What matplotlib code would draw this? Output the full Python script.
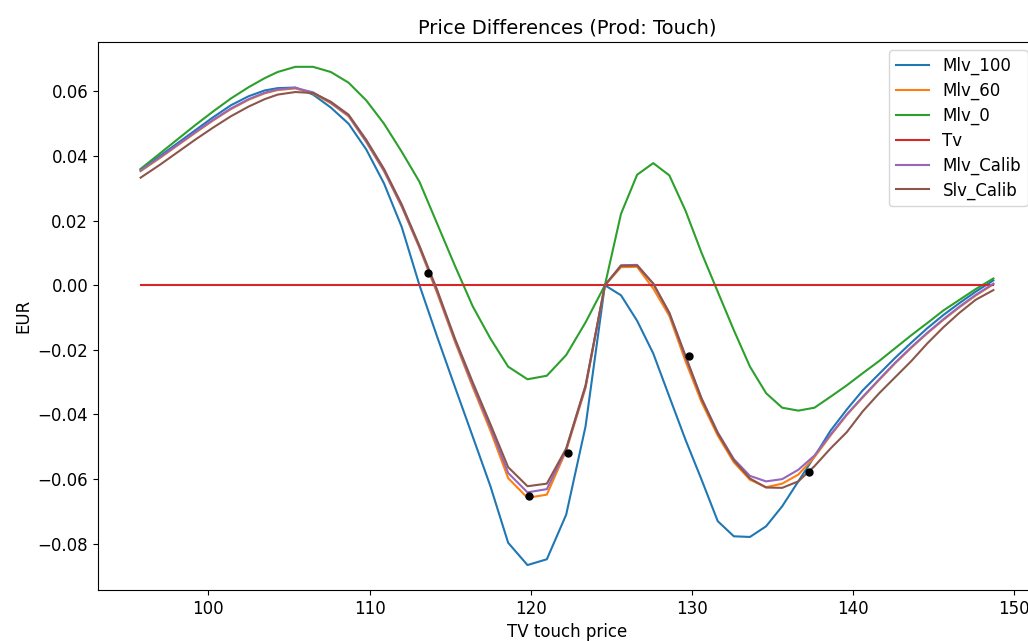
import matplotlib
matplotlib.use("Agg")
import matplotlib.pyplot as plt

# TV touch prices (x grid)
tv_price = [95.8, 97.0, 98.1, 99.2, 100.3, 101.4, 102.5, 103.5, 104.3, 105.4,
            106.5, 107.6, 108.7, 109.8, 110.9, 112.0, 113.1, 114.2, 115.3, 116.4,
            117.5, 118.6, 119.8, 121.0, 122.2, 123.4, 124.6, 125.6, 126.6, 127.6,
            128.6, 129.6, 130.6, 131.6, 132.6, 133.6, 134.6, 135.6, 136.6, 137.6,
            138.6, 139.6, 140.6, 141.6, 142.6, 143.6, 144.6, 145.6, 146.6, 147.6,
            148.7]

mlv_100 = [0.0358, 0.0400, 0.0440, 0.0480, 0.0520, 0.0557, 0.0585, 0.0603, 0.0610, 0.0612,
           0.0590, 0.0550, 0.0500, 0.0420, 0.0315, 0.0180, 0.0000, -0.0160, -0.0315, -0.0468,
           -0.0622, -0.0797, -0.0866, -0.0848, -0.0710, -0.0437, 0.0000, -0.0031, -0.0110, -0.0211,
           -0.0345, -0.0478, -0.0602, -0.0730, -0.0777, -0.0779, -0.0746, -0.0684, -0.0607, -0.0530,
           -0.0450, -0.0385, -0.0325, -0.0275, -0.0225, -0.0178, -0.0133, -0.0092, -0.0055, -0.0020,
           0.0015]

mlv_60 = [0.0353, 0.0394, 0.0433, 0.0472, 0.0510, 0.0545, 0.0574, 0.0594, 0.0604, 0.0609,
          0.0594, 0.0563, 0.0523, 0.0443, 0.0353, 0.0243, 0.0115, -0.0025, -0.0175, -0.0315,
          -0.0450, -0.0597, -0.0658, -0.0648, -0.0512, -0.0318, 0.0000, 0.0056, 0.0057, -0.0010,
          -0.0095, -0.0235, -0.0362, -0.0465, -0.0548, -0.0602, -0.0625, -0.0614, -0.0586, -0.0532,
          -0.0465, -0.0402, -0.0347, -0.0294, -0.0242, -0.0194, -0.0149, -0.0107, -0.0068, -0.0032,
          0.0003]

mlv_0 = [0.0360, 0.0408, 0.0452, 0.0496, 0.0538, 0.0578, 0.0613, 0.0641, 0.0660, 0.0676,
         0.0676, 0.0660, 0.0627, 0.0572, 0.0500, 0.0413, 0.0320, 0.0190, 0.0060, -0.0065,
         -0.0165, -0.0252, -0.0291, -0.0280, -0.0216, -0.0115, 0.0000, 0.0221, 0.0342, 0.0378,
         0.0340, 0.0231, 0.0100, -0.0020, -0.0139, -0.0252, -0.0334, -0.0379, -0.0388, -0.0379,
         -0.0345, -0.0310, -0.0272, -0.0235, -0.0195, -0.0155, -0.0117, -0.0078, -0.0045, -0.0012,
         0.0021]

tv = [0.0] * len(tv_price)

mlv_calib = [0.0355, 0.0396, 0.0435, 0.0474, 0.0512, 0.0547, 0.0576, 0.0596, 0.0606, 0.0611,
             0.0597, 0.0565, 0.0525, 0.0445, 0.0355, 0.0245, 0.0118, -0.0020, -0.0170, -0.0308,
             -0.0440, -0.0581, -0.0641, -0.0631, -0.0508, -0.0314, 0.0000, 0.0062, 0.0063, 0.0005,
             -0.0087, -0.0222, -0.0350, -0.0455, -0.0538, -0.0590, -0.0607, -0.0600, -0.0571, -0.0527,
             -0.0462, -0.0400, -0.0345, -0.0292, -0.0240, -0.0192, -0.0147, -0.0105, -0.0066, -0.0030,
             0.0005]

slv_calib = [0.0333, 0.0373, 0.0412, 0.0451, 0.0488, 0.0523, 0.0553, 0.0576, 0.0590, 0.0598,
             0.0595, 0.0568, 0.0528, 0.0450, 0.0360, 0.0250, 0.0122, -0.0015, -0.0165, -0.0300,
             -0.0430, -0.0563, -0.0622, -0.0614, -0.0505, -0.0310, 0.0000, 0.0060, 0.0061, 0.0005,
             -0.0085, -0.0218, -0.0352, -0.0458, -0.0542, -0.0598, -0.0626, -0.0627, -0.0607, -0.0560,
             -0.0505, -0.0455, -0.0390, -0.0335, -0.0285, -0.0235, -0.0180, -0.0130, -0.0085, -0.0045,
             -0.0015]

# black marker points
dot_x = [113.64, 119.92, 122.31, 129.8, 137.28]
dot_y = [0.0038, -0.0653, -0.0520, -0.0219, -0.0578]

fig = plt.figure(figsize=(10.28, 6.41), dpi=100)
# axes run slightly past the right edge, like the cropped original
ax = fig.add_axes([0.0953, 0.0796, 0.9125, 0.855])

ax.plot(tv_price, mlv_100, label="Mlv_100")
ax.plot(tv_price, mlv_60, label="Mlv_60")
ax.plot(tv_price, mlv_0, label="Mlv_0")
ax.plot(tv_price, tv, label="Tv")
ax.plot(tv_price, mlv_calib, label="Mlv_Calib")
ax.plot(tv_price, slv_calib, label="Slv_Calib")
ax.plot(dot_x, dot_y, "o", color="black", markersize=5)

ax.set_title("Price Differences (Prod: Touch)", fontsize=14)
ax.set_xlabel("TV touch price", fontsize=12)
ax.set_ylabel("EUR", fontsize=12)
ax.tick_params(labelsize=12)
ax.legend(loc="upper right", fontsize=12, labelspacing=0.4)

fig.savefig("out.png", dpi=100)
